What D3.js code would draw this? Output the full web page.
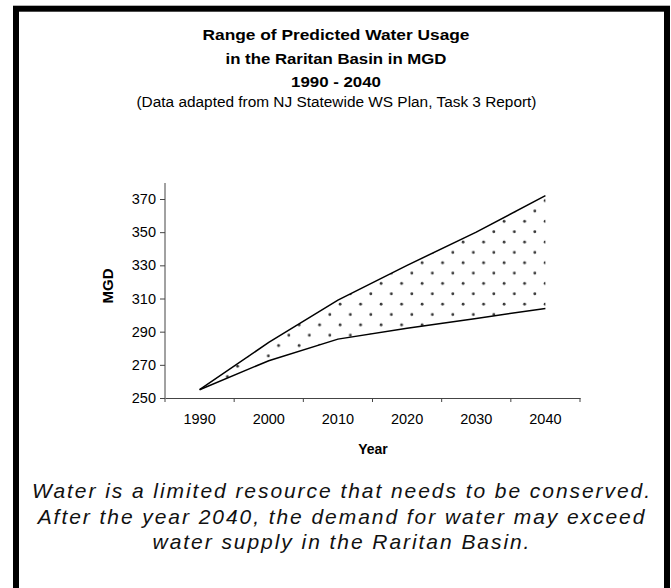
<!DOCTYPE html>
<html>
<head>
<meta charset="utf-8">
<script src="https://cdn.jsdelivr.net/npm/d3@7/dist/d3.min.js"></script>
<style>
  html, body { margin:0; padding:0; background:#fff; }
  svg { display:block; font-family:"Liberation Sans", Arial, sans-serif; }
</style>
</head>
<body>
<svg id="chart" width="671" height="588"></svg>
<script>
const years = [1990, 2000, 2010, 2020, 2030, 2040];
const lowUse = [255, 272.5, 285.5, 292, 298, 304];
const highUse = [255, 283.5, 309, 330, 350, 372];
const yTicks = [250, 270, 290, 310, 330, 350, 370];
const titleLines = ["Range of Predicted Water Usage", "in the Raritan Basin in MGD", "1990 - 2040"];
const subtitle = "(Data adapted from NJ Statewide WS Plan, Task 3 Report)";
const noteLines = ["Water is a limited resource that needs to be conserved.",
  "After the year 2040, the demand for water may exceed",
  "water supply in the Raritan Basin."];

const svg = d3.select("#chart");

// frame
svg.append("rect").attr("x", 16).attr("y", 8.7).attr("width", 651).attr("height", 600)
  .attr("fill", "none").attr("stroke", "#000").attr("stroke-width", 6);

// titles (reference text is drawn a little wide, so stretch to its widths)
const titleW = [267, 221, 90];
svg.append("g").selectAll("text").data(titleLines).join("text")
  .attr("x", 336).attr("y", (d, i) => 40 + i*23.5).attr("text-anchor", "middle")
  .attr("textLength", (d, i) => titleW[i]).attr("lengthAdjust", "spacingAndGlyphs")
  .style("font-weight", "bold").style("font-size", "15px").text(d => d);
svg.append("text").attr("x", 336.5).attr("y", 107).attr("text-anchor", "middle")
  .attr("textLength", 400).attr("lengthAdjust", "spacingAndGlyphs")
  .style("font-size", "14px").text(subtitle);

// plot
const x = d3.scaleBand().domain(years).range([165, 580]);
const y = d3.scaleLinear().domain([250, 370]).range([398, 199]);
const cx = d => x(d) + x.bandwidth()/2;

const defs = svg.append("defs");
const pat = defs.append("pattern").attr("id", "dots").attr("patternUnits", "userSpaceOnUse")
  .attr("x", 335).attr("y", 299).attr("width", 20.5).attr("height", 20.7);
pat.append("circle").attr("cx", 5.1).attr("cy", 5.2).attr("r", 1.4).attr("fill", "#333");
pat.append("circle").attr("cx", 15.35).attr("cy", 15.55).attr("r", 1.4).attr("fill", "#333");

const area = d3.area().x((d, i) => cx(years[i])).y0((d, i) => y(lowUse[i])).y1(d => y(d));
svg.append("path").datum(highUse).attr("d", area).attr("fill", "url(#dots)");

const line = d3.line().x((d, i) => cx(years[i])).y(d => y(d));
[lowUse, highUse].forEach(s => svg.append("path").datum(s).attr("d", line)
  .attr("fill", "none").attr("stroke", "#000").attr("stroke-width", 1.5));

// axes
const yAxis = svg.append("g").attr("transform", "translate(165,0)")
  .call(d3.axisLeft(y).tickValues(yTicks).tickSize(5).tickPadding(4));
yAxis.select(".domain").attr("d", `M0,183V${y(250)}`);
const xAxis = svg.append("g").attr("transform", `translate(0,${y(250)})`)
  .call(d3.axisBottom(x).tickSize(0).tickPadding(16));
xAxis.selectAll(".tick line").remove();
xAxis.selectAll(".sep").data(d3.range(years.length + 1)).join("line").attr("class", "sep")
  .attr("x1", i => 165 + i*x.step()).attr("x2", i => 165 + i*x.step()).attr("y2", 4).attr("stroke", "#444");
[yAxis, xAxis].forEach(a => {
  a.select(".domain").attr("stroke", "#444");
  a.selectAll(".tick line").attr("stroke", "#444");
  a.selectAll("text").style("font-size", "14.5px").style("font-family", "'Liberation Sans', Arial, sans-serif").attr("fill", "#000");
});

svg.append("text").attr("transform", "translate(113,286) rotate(-90)").attr("text-anchor", "middle")
  .style("font-weight", "bold").style("font-size", "15px").text("MGD");
svg.append("text").attr("x", 373).attr("y", 454).attr("text-anchor", "middle")
  .style("font-weight", "bold").style("font-size", "14px").text("Year");

// note
const notes = svg.append("g").selectAll("text").data(noteLines).join("text")
  .attr("x", 342).attr("y", (d, i) => 498 + i*25.5).attr("text-anchor", "middle")
  .style("font-style", "italic").style("font-size", "21px").style("fill", "#111").text(d => d);
const w0 = notes.nodes()[0].getComputedTextLength();
const ls = (618 - w0) / (noteLines[0].length - 1);
notes.style("letter-spacing", ls + "px");
</script>
</body>
</html>
